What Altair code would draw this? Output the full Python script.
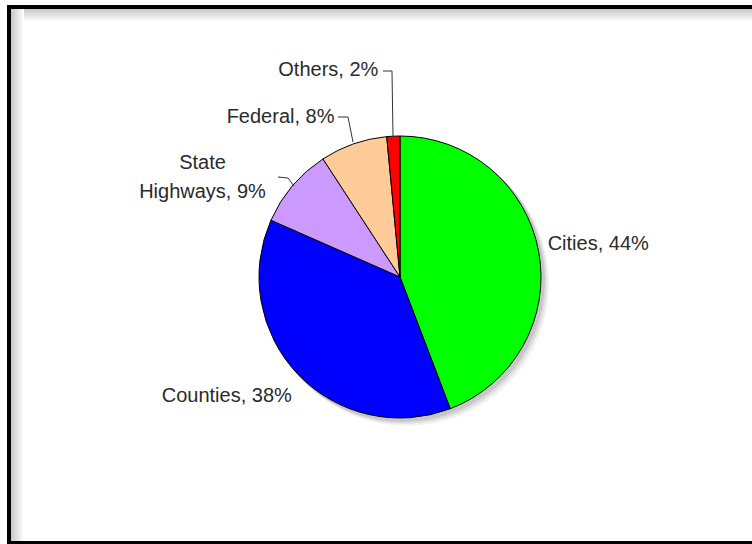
import altair as alt
import pandas as pd

# ---- data ----
categories = ["Cities", "Counties", "State\nHighways", "Federal", "Others"]
shares = [44.2, 37.4, 9.2, 7.7, 1.5]          # slice sizes (share of the circle)
pct_labels = [44, 38, 9, 8, 2]                 # percentages printed on the labels
colors = ["#00ff00", "#0000ff", "#cc99ff", "#ffcc99", "#ff0000"]

df = pd.DataFrame({
    "idx": list(range(len(categories))),
    "cat": categories,
    "share": shares,
    "label": [f"{c}, {p}%" for c, p in zip(categories, pct_labels)],
})

W, H = 752, 544
CX, CY, R = 400, 277, 141
FONT = "Liberation Sans"
FS = 20

one = pd.DataFrame({"a": [0]})

theta = alt.Theta("share:Q", stack=True)
order = alt.Order("idx:Q", sort="ascending")
color = alt.Color("idx:O", scale=alt.Scale(domain=list(range(len(categories))), range=colors), legend=None)

# frame and inner shading
frame_top_shade = alt.Chart(one).mark_rect(
    color=alt.Gradient(gradient="linear", stops=[alt.GradientStop(color="#c8c8c8", offset=0),
                                                  alt.GradientStop(color="#ffffff", offset=1)],
                       x1=0, x2=0, y1=0, y2=1)
).encode(x=alt.value(11), x2=alt.value(W), y=alt.value(9), y2=alt.value(22))
frame_left_shade = alt.Chart(one).mark_rect(
    color=alt.Gradient(gradient="linear", stops=[alt.GradientStop(color="#c8c8c8", offset=0),
                                                  alt.GradientStop(color="#ffffff", offset=1)],
                       x1=0, x2=1, y1=0, y2=0)
).encode(x=alt.value(11), x2=alt.value(24), y=alt.value(9), y2=alt.value(541))
frame = alt.Chart(one).mark_rect(fill="transparent", stroke="black", strokeWidth=4).encode(
    x=alt.value(9), x2=alt.value(W + 20), y=alt.value(7), y2=alt.value(543)
)

# pie shadow (soft, offset down-right)
shadows = [
    alt.Chart(one).mark_arc(theta=0, theta2=6.2832, radius=R + 1, color="#000000", opacity=op).encode(
        x=alt.value(CX + off), y=alt.value(CY + off))
    for off, op in [(7, 0.05), (5, 0.08), (3, 0.10)]
]

pie = alt.Chart(df).mark_arc(stroke="black", strokeWidth=1, radius=R).encode(
    theta=theta, order=order, color=color, x=alt.value(CX), y=alt.value(CY)
)

# label placement: (align, dx, dy) relative to the slice's mid-angle point on the rim
placements = {
    0: ("left", 9, -7),
    1: ("right", -6, 22),
    2: ("center", -90, -23),
    3: ("right", -19, -27),
    4: ("right", -15, -66),
}


def label_layers(fill):
    out = []
    for i, (align, dx, dy) in placements.items():
        out.append(
            alt.Chart(df).transform_calculate(
                t=f"datum.idx == {i} ? datum.label : ''"
            ).mark_text(
                font=FONT, fontSize=FS, align=align, baseline="middle", dx=dx, dy=dy,
                color=fill, lineBreak="\n", lineHeight=29,
            ).encode(
                theta=theta, order=order, radius=alt.value(R), text="t:N",
                x=alt.value(CX), y=alt.value(CY)
            )
        )
    return out


# leader lines
leaders = [
    ((383, 71), (392, 71)), ((392, 71), (393, 137)),
    ((338, 117), (348, 117)), ((348, 117), (353, 142)),
    ((278, 177), (288, 178)), ((288, 178), (294, 186)),
]
leader_layers = [
    alt.Chart(one).mark_rule(color="#333333", strokeWidth=1).encode(
        x=alt.value(a[0]), y=alt.value(a[1]), x2=alt.value(b[0]), y2=alt.value(b[1]))
    for a, b in leaders
]

chart = alt.layer(
    frame_top_shade, frame_left_shade, frame,
    *shadows, pie,
    *leader_layers,
    *label_layers("#2a2a2a"),
).properties(
    width=W, height=H, padding=0, autosize="none", background="white"
).configure_view(strokeWidth=0)

chart.save("out.html", embed_options={"renderer": "svg", "actions": False})
